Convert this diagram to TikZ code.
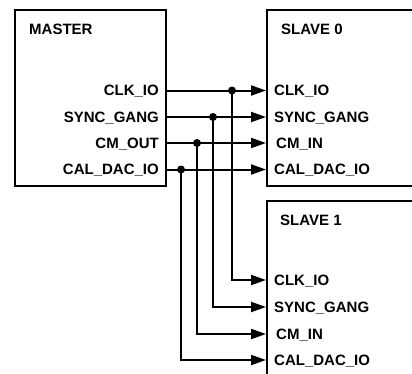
\documentclass[tikz,border=0pt]{standalone}
\usepackage{fontspec}
\setmainfont{Liberation Sans}
\usetikzlibrary{arrows.meta}
\begin{document}
\begin{tikzpicture}[x=1pt,y=-1pt,
  box/.style={draw,line width=2.2pt},
  lbl/.style={font=\fontsize{15}{18}\selectfont\bfseries,inner sep=0pt},
  wire/.style={line width=2pt},
  arr/.style={wire,-{Triangle[length=15pt,width=10pt]}},
  dot/.style={circle,fill,inner sep=0pt,minimum size=8pt}]
\useasboundingbox (0,0) rectangle (412,373);
\clip (0,0) rectangle (412,373);
% boxes
\draw[box] (15,10) rectangle (166,186);
\draw[box] (267,10) rectangle (430,186);
\draw[box] (267,201) rectangle (430,390);
% titles
\node[lbl,anchor=base west] (mt) at (29,34) {MASTER};
\node[lbl,anchor=base west] (s0t) at (281,34) {SLAVE 0};
\node[lbl,anchor=base west] (s1t) at (280,225) {SLAVE 1};
% master pins
\node[lbl,anchor=base east] (mclk) at (159,95.5) {CLK\_IO};
\node[lbl,anchor=base east] (msync) at (159,122) {SYNC\_GANG};
\node[lbl,anchor=base east] (mcm) at (159,148) {CM\_OUT};
\node[lbl,anchor=base east] (mcal) at (159,174.5) {CAL\_DAC\_IO};
% slave 0 pins
\node[lbl,anchor=base west] (aclk) at (274,95.5) {CLK\_IO};
\node[lbl,anchor=base west] (async) at (274,122) {SYNC\_GANG};
\node[lbl,anchor=base west] (acm) at (276,148) {CM\_IN};
\node[lbl,anchor=base west] (acal) at (274,174.5) {CAL\_DAC\_IO};
% slave 1 pins
\node[lbl,anchor=base west] (bclk) at (274,285) {CLK\_IO};
\node[lbl,anchor=base west] (bsync) at (274,312) {SYNC\_GANG};
\node[lbl,anchor=base west] (bcm) at (276,339) {CM\_IN};
\node[lbl,anchor=base west] (bcal) at (274,365) {CAL\_DAC\_IO};
% pin coordinates
\coordinate (o1) at (166,90.5);
\coordinate (o2) at (166,117);
\coordinate (o3) at (166,143);
\coordinate (o4) at (166,169.5);
\coordinate (i1) at (266,90.5);
\coordinate (i2) at (266,117);
\coordinate (i3) at (266,143);
\coordinate (i4) at (266,169.5);
\coordinate (j1) at (266,280);
\coordinate (j2) at (266,307);
\coordinate (j3) at (266,334);
\coordinate (j4) at (266,360);
% junctions
\node[dot] (d1) at (232,90.5) {};
\node[dot] (d2) at (213,117) {};
\node[dot] (d3) at (197,143) {};
\node[dot] (d4) at (181,169.5) {};
% wires
\draw[arr] (o1) -- (i1);
\draw[arr] (o2) -- (i2);
\draw[arr] (o3) -- (i3);
\draw[arr] (o4) -- (i4);
\draw[arr] (d1.center) |- (j1);
\draw[arr] (d2.center) |- (j2);
\draw[arr] (d3.center) |- (j3);
\draw[arr] (d4.center) |- (j4);
\end{tikzpicture}
\end{document}
